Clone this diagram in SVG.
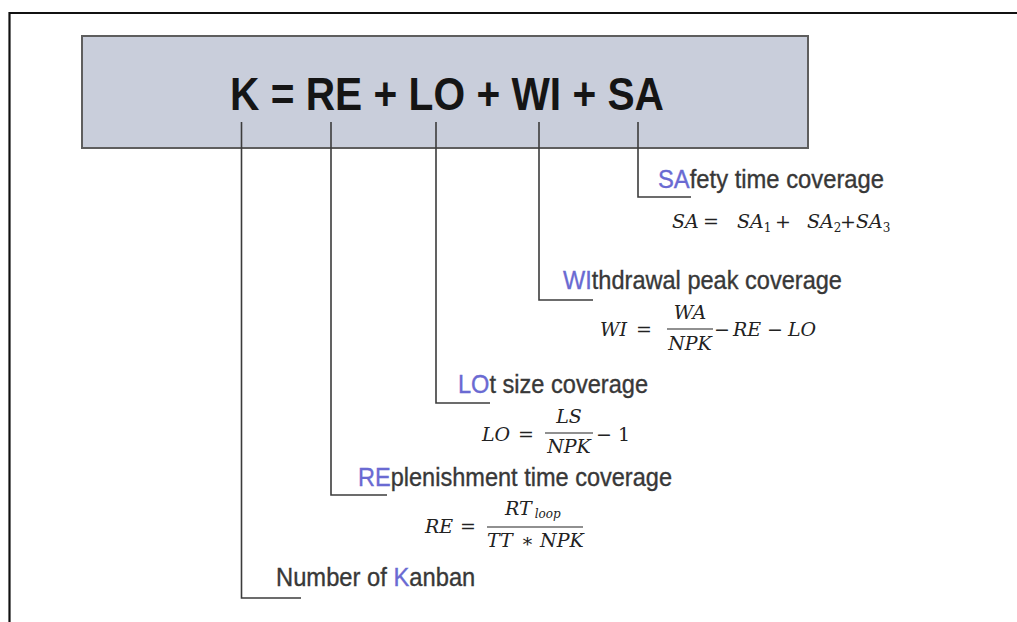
<svg xmlns="http://www.w3.org/2000/svg" width="1017" height="622" viewBox="0 0 1017 622">
<style>
.lbl{font-family:"Liberation Sans",Arial,sans-serif;font-size:25px;fill:#383838;stroke:#383838;stroke-width:0.35}
.hl{fill:#6a6ad2;stroke:#6a6ad2}
.m{font-family:"DejaVu Serif","Liberation Serif",serif;font-style:italic;font-size:19px;fill:#222}
.n{font-style:normal}
.sub{font-style:normal;font-size:12px}
.ln{stroke:#3c3c3c;stroke-width:1.6;fill:none}
.bar{stroke:#222;stroke-width:1.2}
</style>
<rect width="1017" height="622" fill="#fff"/>
<path d="M9.5 622 V13 H1017" fill="none" stroke="#111" stroke-width="2.2"/>
<g id="title">
<rect x="82" y="36" width="726" height="112" fill="#c9cedb" stroke="#5e5e5e" stroke-width="2"/>
<text x="230" y="110" textLength="434" lengthAdjust="spacingAndGlyphs" font-family="'Liberation Sans',Arial,sans-serif" font-weight="bold" font-size="47" fill="#151515">K = RE + LO + WI + SA</text>
</g>
<g id="connectors">
<path class="ln" d="M638 122 V197 H691"/>
<path class="ln" d="M539 122 V300 H593"/>
<path class="ln" d="M436 122 V403 H490"/>
<path class="ln" d="M331 122 V495 H387"/>
<path class="ln" d="M241.5 122 V598 H301"/>
</g>
<g id="sa">
<text class="lbl" x="658" y="188" textLength="226" lengthAdjust="spacingAndGlyphs"><tspan class="hl">SA</tspan>fety time coverage</text>
<text class="m" y="228"><tspan x="672">SA</tspan><tspan x="703" class="n">=</tspan><tspan x="737">SA</tspan><tspan class="sub" dy="4">1</tspan><tspan x="775" dy="-4" class="n">+</tspan><tspan x="807">SA</tspan><tspan class="sub" dy="4">2</tspan><tspan x="840" dy="-4" class="n">+</tspan><tspan x="856">SA</tspan><tspan class="sub" dy="4">3</tspan></text>
</g>
<g id="wi">
<text class="lbl" x="563" y="289" textLength="279" lengthAdjust="spacingAndGlyphs"><tspan class="hl">WI</tspan>thdrawal peak coverage</text>
<text class="m" y="336"><tspan x="600">WI</tspan><tspan x="636" class="n">=</tspan></text>
<text class="m" x="690" y="319" text-anchor="middle">WA</text>
<line class="bar" x1="667" y1="329" x2="713" y2="329"/>
<text class="m" x="690" y="350" text-anchor="middle">NPK</text>
<text class="m" y="336"><tspan x="714" class="n">−</tspan><tspan x="733">RE</tspan><tspan x="767" class="n">−</tspan><tspan x="788">LO</tspan></text>
</g>
<g id="lo">
<text class="lbl" x="458" y="393" textLength="190" lengthAdjust="spacingAndGlyphs"><tspan class="hl">LO</tspan>t size coverage</text>
<text class="m" y="441"><tspan x="482">LO</tspan><tspan x="518" class="n">=</tspan></text>
<text class="m" x="569" y="423" text-anchor="middle">LS</text>
<line class="bar" x1="545" y1="433" x2="593" y2="433"/>
<text class="m" x="569" y="453" text-anchor="middle">NPK</text>
<text class="m n" y="441"><tspan x="596">−</tspan><tspan x="618">1</tspan></text>
</g>
<g id="re">
<text class="lbl" x="358" y="486" textLength="314" lengthAdjust="spacingAndGlyphs"><tspan class="hl">RE</tspan>plenishment time coverage</text>
<text class="m" y="533"><tspan x="425">RE</tspan><tspan x="460" class="n">=</tspan></text>
<text class="m" x="505" y="515">RT<tspan font-size="12" dx="3" dy="3">loop</tspan></text>
<line class="bar" x1="487" y1="527" x2="583" y2="527"/>
<text class="m" y="547"><tspan x="487">TT</tspan><tspan x="521" class="n">∗</tspan><tspan x="540">NPK</tspan></text>
</g>
<g id="k">
<text class="lbl" transform="translate(276 586) scale(0.95 1)">Number of <tspan class="hl">K</tspan>anban</text>
</g>
</svg>
